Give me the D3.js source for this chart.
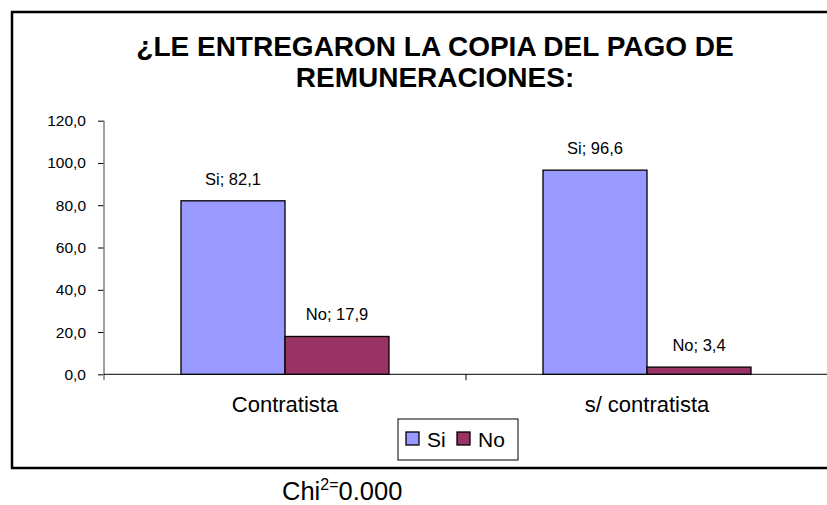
<!DOCTYPE html>
<html>
<head>
<meta charset="utf-8">
<script src="https://cdn.jsdelivr.net/npm/d3@7"></script>
<style>
  body { margin: 0; background: #fff; }
  text { font-family: Arial, "Liberation Sans", sans-serif; fill: #000; }
</style>
</head>
<body>
<div id="chart"></div>
<script>
var categories = ['Contratista', 's/ contratista']
var seriesNames = ['Si', 'No']
var siValues = [82.1, 96.6]
var noValues = [17.9, 3.4]
var yTicks = [0, 20, 40, 60, 80, 100, 120]
var titleLines = ['¿LE ENTREGARON LA COPIA DEL PAGO DE', 'REMUNERACIONES:']

var colors = {Si: '#9999ff', No: '#993366'}
var width = 827, height = 505
var plot = {left: 104, right: 828, top: 120.7, bottom: 374.3}

var svg = d3.select('#chart')
  .append('svg')
    .attr('width', width)
    .attr('height', height)

// frame of the chart area
svg.append('rect')
    .attr('x', 12).attr('y', 12)
    .attr('width', 830).attr('height', 456)
    .attr('fill', 'none')
    .attr('stroke', '#000')
    .attr('stroke-width', 2.5)

svg.selectAll('.title')
  .data(titleLines)
  .enter().append('text')
    .attr('x', 435)
    .attr('y', function(d, i){ return 56 + i * 31 })
    .attr('text-anchor', 'middle')
    .style('font-size', '28px')
    .style('font-weight', 'bold')
    .text(function(d){ return d })

var x0 = d3.scaleBand()
    .domain(categories)
    .range([plot.left, plot.right])

var x1 = d3.scaleBand()
    .domain(seriesNames)
    .range([0, 208])

var y = d3.scaleLinear()
    .domain([0, 120])
    .range([plot.bottom, plot.top])

var fmt = function(v){ return d3.format('.1f')(v).replace('.', ',') }

// y axis
var yAxis = svg.append('g')
    .attr('transform', 'translate(' + plot.left + ',0)')
    .call(d3.axisLeft(y).tickValues(yTicks).tickFormat(fmt).tickSize(6).tickPadding(12))
yAxis.select('.domain').remove()
yAxis.selectAll('.tick line').attr('stroke', '#000')
yAxis.selectAll('text')
    .style('font-size', '15.5px')
    .style('font-family', 'Arial, "Liberation Sans", sans-serif')
    .attr('fill', '#000')
svg.append('line')
    .attr('x1', plot.left).attr('x2', plot.left)
    .attr('y1', plot.top).attr('y2', plot.bottom + 6)
    .attr('stroke', '#808080').attr('stroke-width', 1.5)

// x axis line and category divider
svg.append('line')
    .attr('x1', plot.left).attr('x2', plot.right)
    .attr('y1', plot.bottom).attr('y2', plot.bottom)
    .attr('stroke', '#000')
svg.selectAll('.divider')
  .data(categories.slice(1))
  .enter().append('line')
    .attr('x1', function(d){ return x0(d) })
    .attr('x2', function(d){ return x0(d) })
    .attr('y1', plot.bottom).attr('y2', plot.bottom + 6)
    .attr('stroke', '#000')

var rows = categories.map(function(c, i){
  return {cat: c, vals: [{s: 'Si', v: siValues[i]}, {s: 'No', v: noValues[i]}]}
})

var offset = (x0.bandwidth() - x1.range()[1]) / 2

var groups = svg.selectAll('.grp')
  .data(rows)
  .enter().append('g')
    .attr('transform', function(d){ return 'translate(' + (x0(d.cat) + offset) + ',0)' })

groups.selectAll('rect')
  .data(function(d){ return d.vals })
  .enter().append('rect')
    .attr('x', function(d){ return x1(d.s) })
    .attr('y', function(d){ return y(d.v) })
    .attr('width', x1.bandwidth())
    .attr('height', function(d){ return y(0) - y(d.v) })
    .attr('fill', function(d){ return colors[d.s] })
    .attr('stroke', '#000')
    .attr('stroke-width', 1.3)

groups.selectAll('.lbl')
  .data(function(d){ return d.vals })
  .enter().append('text')
    .attr('x', function(d){ return x1(d.s) + x1.bandwidth() / 2 })
    .attr('y', function(d){ return y(d.v) - 16 })
    .attr('text-anchor', 'middle')
    .style('font-size', '16.5px')
    .text(function(d){ return d.s + '; ' + fmt(d.v) })

svg.selectAll('.cat')
  .data(categories)
  .enter().append('text')
    .attr('x', function(d){ return x0(d) + x0.bandwidth() / 2 })
    .attr('y', 412)
    .attr('text-anchor', 'middle')
    .style('font-size', '22px')
    .text(function(d){ return d })

// legend
var legend = svg.append('g').attr('transform', 'translate(398,419)')
legend.append('rect')
    .attr('width', 120).attr('height', 41)
    .attr('fill', '#fff').attr('stroke', '#000')
var li = legend.selectAll('.li')
  .data(seriesNames)
  .enter().append('g')
    .attr('transform', function(d, i){ return 'translate(' + (8 + i * 51) + ',0)' })
li.append('rect')
    .attr('x', 0).attr('y', 13)
    .attr('width', 13).attr('height', 13)
    .attr('fill', function(d){ return colors[d] })
    .attr('stroke', '#000').attr('stroke-width', 1.3)
li.append('text')
    .attr('x', 21).attr('y', 28)
    .style('font-size', '21px')
    .text(function(d){ return d })

// note under the chart
var chi = svg.append('text')
    .attr('x', 282).attr('y', 500)
    .style('font-size', '25.5px')
chi.append('tspan').text('Chi')
chi.append('tspan').attr('dy', -10).style('font-size', '16px').text('2=')
chi.append('tspan').attr('dy', 10).text('0.000')
</script>
</body>
</html>
